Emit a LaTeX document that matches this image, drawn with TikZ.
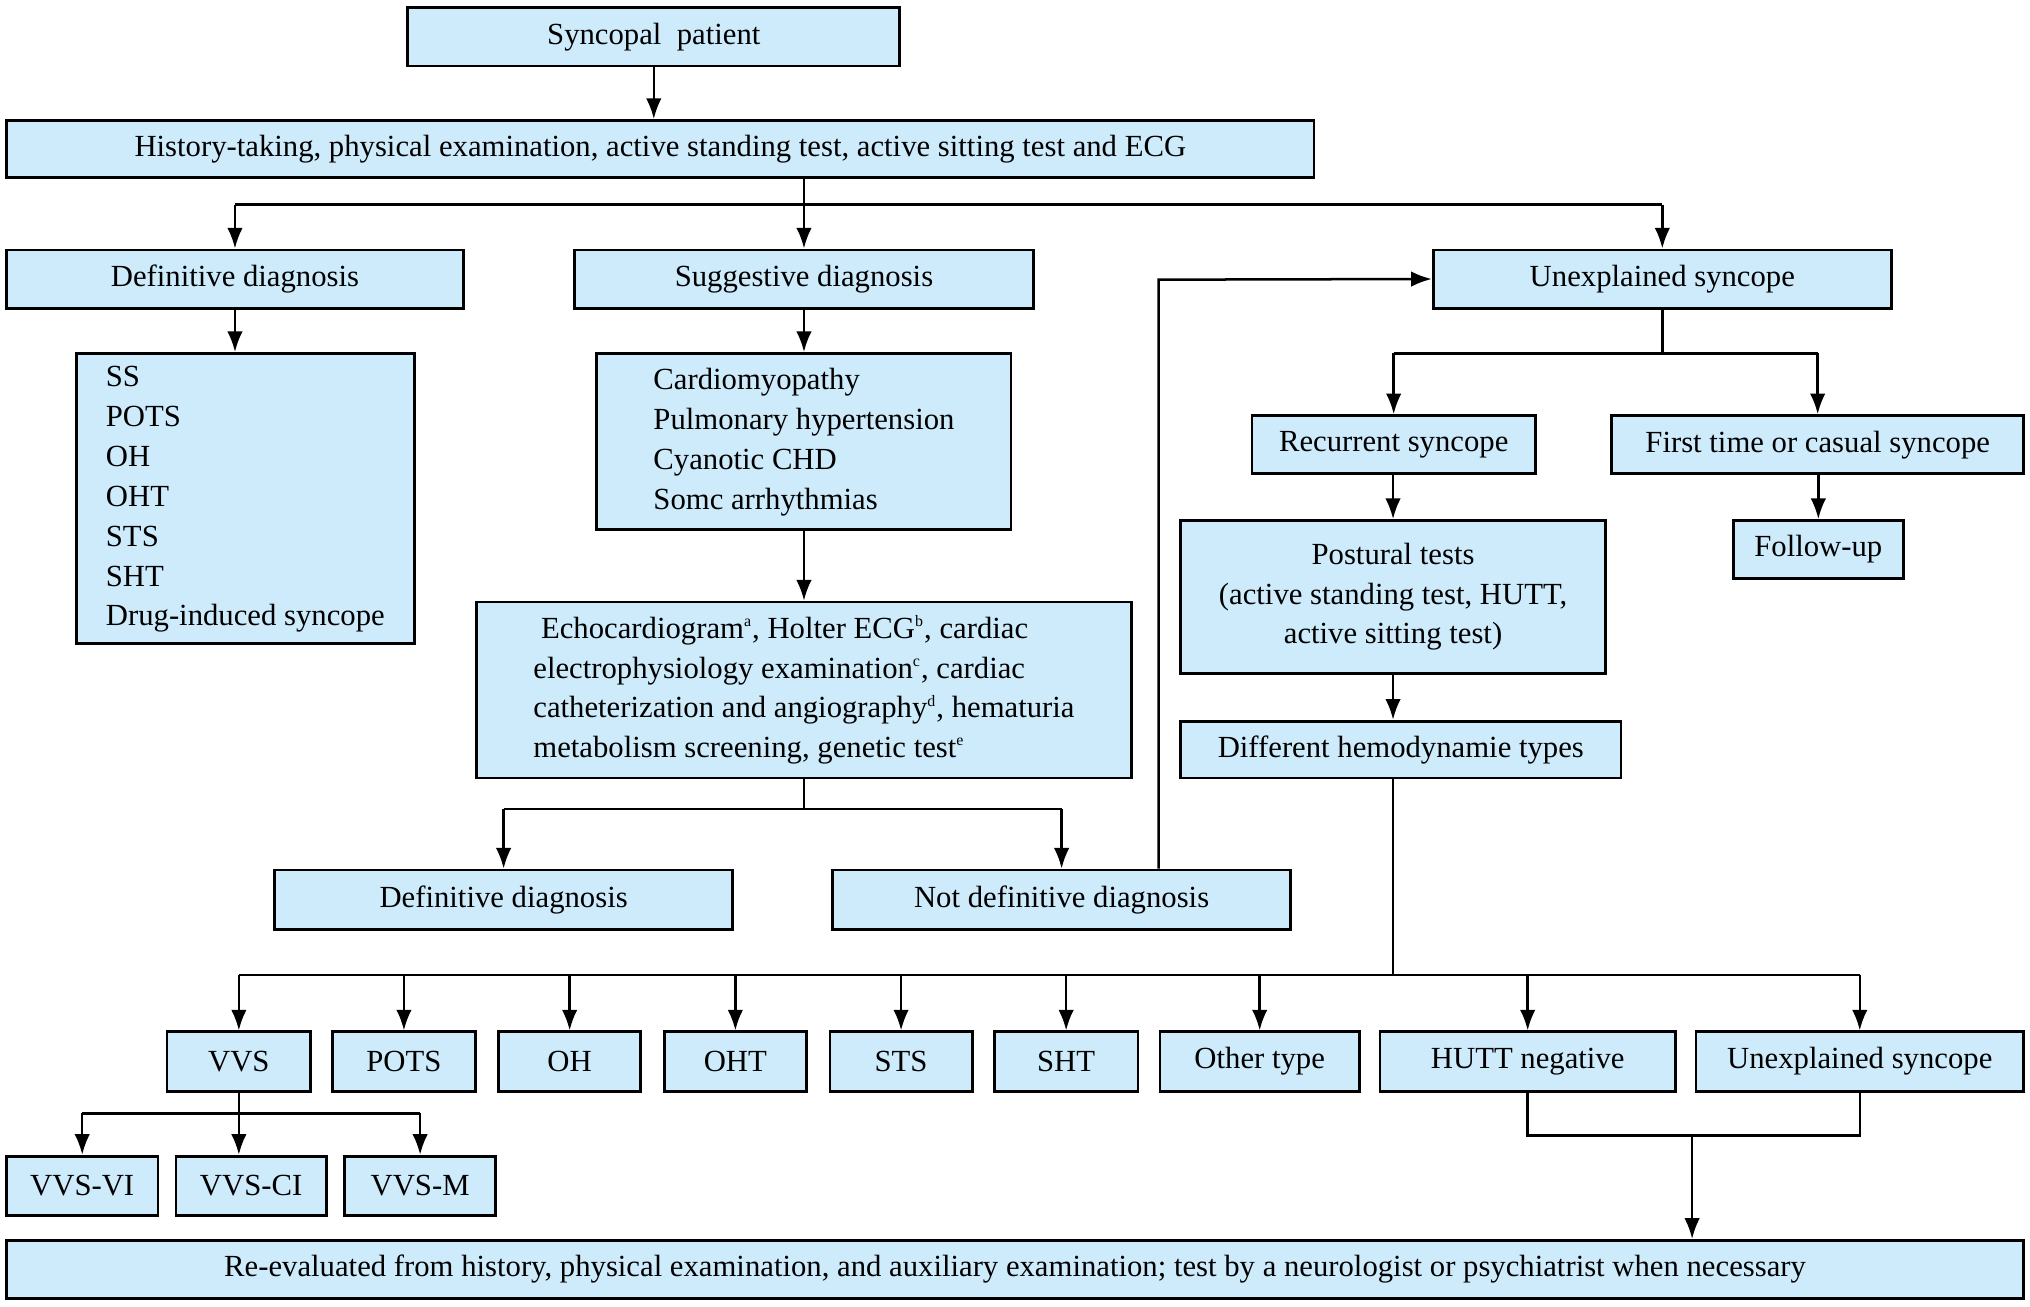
\documentclass[tikz,border=0pt]{standalone}
\usepackage{fontspec}
\setmainfont{Liberation Serif}
\usetikzlibrary{arrows.meta}
\definecolor{bfill}{RGB}{205,235,251}
\tikzset{box/.style={draw=black,line width=1.2pt,fill=bfill,inner sep=0pt,align=center,font=\fontsize{13.5}{17.5}\selectfont},
arr/.style={line width=1.1pt,-{Latex[length=3.2mm,width=2.4mm]}},
ln/.style={line width=1.1pt}}
\newcommand\bx[6]{\node[box,minimum width={(#4-#2)*0.02cm},minimum height={(#5-#3)*0.02cm}] (#1) at ({(#2+#4)/2},{(#3+#5)/2}) {#6};}
\newcommand\sps[1]{\textsuperscript{\fontsize{7}{7}\selectfont #1}}
\begin{document}
\begin{tikzpicture}[x=0.02cm,y=-0.02cm]
\useasboundingbox (0,0) rectangle (1568,1009);
\bx{sp}{315}{6}{695}{51}{Syncopal\ \ patient}
\bx{hist}{5}{93}{1015}{137}{History-taking, physical examination, active standing test, active sitting test and ECG}
\bx{defa}{5}{193}{358}{238}{Definitive diagnosis}
\bx{sug}{444}{193}{798}{238}{Suggestive diagnosis}
\bx{unex}{1107}{193}{1461}{238}{Unexplained syncope}
\bx{list}{59}{273}{320}{497}{\begin{tabular}{@{}l@{}}SS\\POTS\\OH\\OHT\\STS\\SHT\\Drug-induced syncope\end{tabular}}
\bx{card}{461}{273}{781}{409}{\begin{tabular}{@{}l@{}}Cardiomyopathy\\Pulmonary hypertension\\Cyanotic CHD\\Somc arrhythmias\end{tabular}}
\bx{echo}{368}{465}{874}{601}{\begin{tabular}{@{}l@{}}\ Echocardiogram\sps{a}, Holter ECG\sps{b}, cardiac\\electrophysiology examination\sps{c}, cardiac\\catheterization and angiography\sps{d}, hematuria\\metabolism screening, genetic test\sps{e}\end{tabular}}
\bx{defb}{212}{672}{566}{718}{Definitive diagnosis}
\bx{notdef}{643}{672}{997}{718}{Not definitive diagnosis}
\bx{rec}{967}{321}{1186}{366}{Recurrent syncope}
\bx{first}{1245}{321}{1563}{366}{First time or casual syncope}
\bx{follow}{1339}{402}{1470}{447}{Follow-up}
\bx{post}{912}{402}{1240}{520}{Postural tests\\(active standing test, HUTT,\\active sitting test)}
\bx{diff}{912}{557}{1252}{601}{Different hemodynamie types}
\bx{vvs}{129}{797}{240}{843}{VVS}
\bx{pots}{257}{797}{367}{843}{POTS}
\bx{oh}{385}{797}{495}{843}{OH}
\bx{oht}{513}{797}{623}{843}{OHT}
\bx{sts}{641}{797}{751}{843}{STS}
\bx{sht}{768}{797}{879}{843}{SHT}
\bx{oth}{896}{797}{1050}{843}{Other type}
\bx{hutt}{1066}{797}{1294}{843}{HUTT negative}
\bx{unexb}{1310}{797}{1563}{843}{Unexplained syncope}
\bx{vi}{5}{893}{122}{939}{VVS-VI}
\bx{ci}{136}{893}{252}{939}{VVS-CI}
\bx{vm}{266}{893}{383}{939}{VVS-M}
\bx{fin}{5}{958}{1563}{1003}{Re-evaluated from history, physical examination, and auxiliary examination; test by a neurologist or psychiatrist when necessary}
% connectors
\draw[arr] (sp) -- (sp|-hist.north);
\draw[ln] (hist.south-|sug) -- (sug|-0,158);
\draw[ln] (defa|-0,158) -- (unex|-0,158);
\foreach \n in {defa,sug,unex} \draw[arr] (\n|-0,158) -- (\n.north);
\draw[arr] (defa.south) -- (defa|-list.north);
\draw[arr] (sug.south) -- (sug|-card.north);
\draw[arr] (card.south-|sug) -- (sug|-echo.north);
\draw[ln] (echo.south-|sug) -- (sug|-0,625);
\draw[ln] (defb|-0,625) -- (notdef|-0,625);
\draw[arr] (defb|-0,625) -- (defb.north);
\draw[arr] (notdef|-0,625) -- (notdef.north);
\draw[arr] (895,0|-notdef.north) -- (895,216) -- (unex.west);
\draw[ln] (unex.south) -- (unex|-0,273);
\draw[ln] (rec|-0,273) -- (first|-0,273);
\draw[arr] (rec|-0,273) -- (rec.north);
\draw[arr] (first|-0,273) -- (first.north);
\draw[arr] (rec.south-|post) -- (post.north);
\draw[arr] (first.south-|follow) -- (follow.north);
\draw[arr] (post.south) -- (post|-diff.north);
\draw[ln] (diff.south-|post) -- (post|-0,753);
\draw[ln] (vvs|-0,753) -- (unexb|-0,753);
\foreach \n in {vvs,pots,oh,oht,sts,sht,oth,hutt,unexb} \draw[arr] (\n|-0,753) -- (\n.north);
\draw[ln] (vvs.south) -- (vvs|-0,860);
\draw[ln] (vi|-0,860) -- (vm|-0,860);
\draw[arr] (vi|-0,860) -- (vi.north);
\draw[arr] (vvs|-0,860) -- (vvs|-ci.north);
\draw[arr] (vm|-0,860) -- (vm.north);
\draw[ln] (hutt.south) -- (hutt|-0,877) -- (unexb|-0,877) -- (unexb.south);
\draw[arr] (1307,877) -- (1307,0|-fin.north);
\end{tikzpicture}
\end{document}
